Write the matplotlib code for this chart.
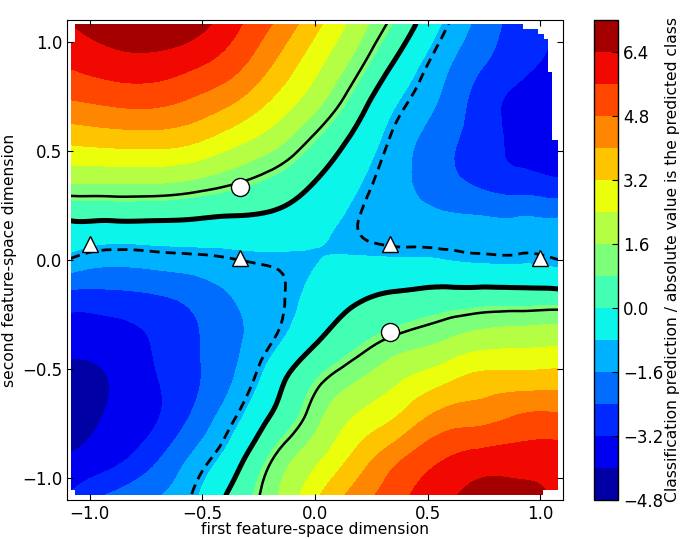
import numpy as np
import matplotlib
matplotlib.use("Agg")
import matplotlib.pyplot as plt
import matplotlib.tri as mtri
from matplotlib.patches import Polygon

grid_x = [-1.085, -0.9, -0.72, -0.54, -0.36, -0.18, 0.0, 0.18, 0.36, 0.54, 0.72, 0.9, 1.085]
grid_y = [1.085, 0.9, 0.72, 0.54, 0.36, 0.18, 0.0, -0.18, -0.36, -0.54, -0.72, -0.9, -1.085]

# one row per grid_y value (top to bottom), one column per grid_x value
pred_rows = [
    [6.4, 6.9, 7.1, 6.8, 5.83, 4.75, 3.46, 2.08, 0.69, -0.66, -1.76, -2.7, -3.0],
    [5.7, 6.04, 6.1, 5.76, 5.1, 3.95, 2.67, 1.31, -0.12, -1.22, -2.23, -2.93, -3.5],
    [4.7, 4.92, 4.97, 4.62, 4.0, 3.01, 1.85, 0.46, -0.77, -1.6, -2.68, -3.4, -3.6],
    [3.3, 3.44, 3.49, 3.26, 2.6, 1.84, 0.77, -0.23, -1.18, -2.02, -2.75, -3.35, -3.5],
    [1.68, 1.7, 1.7, 1.5, 1.1, 0.63, 0.0, -0.68, -1.37, -2.0, -2.55, -2.9, -3.1],
    [0.0, 0.0, 0.0, -0.05, -0.13, -0.21, -0.55, -0.97, -1.3, -1.42, -1.48, -1.5, -1.5],
    [-1.05, -1.36, -1.28, -1.17, -1.02, -0.92, -0.82, -0.74, -0.75, -0.77, -0.88, -0.9, -1.0],
    [-2.8, -2.73, -2.56, -2.2, -1.6, -1.13, -0.59, -0.09, 0.19, 0.375, 0.48, 0.5, 0.5],
    [-3.64, -3.6, -3.15, -2.53, -1.77, -1.0, -0.13, 0.59, 1.1, 1.45, 1.9, 2.04, 2.13],
    [-4.3, -3.95, -3.3, -2.56, -1.6, -0.37, 0.74, 1.48, 2.21, 2.83, 3.39, 3.48, 3.54],
    [-4.4, -3.9, -3.35, -2.27, -1.06, 0.15, 1.33, 2.45, 3.2, 4.19, 4.48, 4.87, 4.93],
    [-3.95, -3.5, -2.67, -1.5, -0.4, 1.0, 2.12, 3.39, 4.54, 5.4, 5.84, 5.93, 5.9],
    [-3.1, -2.23, -1.7, -0.94, 0.26, 1.47, 3.04, 4.34, 5.3, 6.14, 6.6, 6.7, 6.2],
]

# training samples
circle_x = [-0.333, 0.333]
circle_y = [0.335, -0.33]
triangle_x = [-1.0, -0.333, 0.333, 1.0]
triangle_y = [0.075, 0.01, 0.075, 0.01]

levels = [-4.8, -4.0, -3.2, -2.4, -1.6, -0.8, 0.0, 0.8, 1.6, 2.4, 3.2, 4.0, 4.8, 5.6, 6.4, 7.2]
cbar_ticks = [-4.8, -3.2, -1.6, 0.0, 1.6, 3.2, 4.8, 6.4]
line_levels = [-1.0, 0.0, 1.0]

plt.rcParams['font.size'] = 12

fig = plt.figure(figsize=(6.82, 5.39), dpi=100)
ax = fig.add_axes([0.0982, 0.0724, 0.7273, 0.8905])
cax = fig.add_axes([0.871, 0.0724, 0.0352, 0.8905])

X, Y = np.meshgrid(grid_x, grid_y)
Z = np.array(pred_rows)
tri = mtri.Triangulation(X.ravel(), Y.ravel())
interp = mtri.CubicTriInterpolator(tri, Z.ravel(), kind='min_E')
refiner = mtri.UniformTriRefiner(tri)
tri_f, z_f = refiner.refine_field(Z.ravel(), triinterpolator=interp, subdiv=3)
z_f = np.clip(z_f, -4.79, 7.19)

cs = ax.tricontourf(tri_f, z_f, levels=levels, cmap='jet')
cl = ax.tricontour(tri_f, z_f, levels=line_levels, colors='k',
                   linewidths=[2.0, 3.6, 1.8],
                   linestyles=[(0, (3.6, 2.2)), 'solid', 'solid'])

# ragged border of the evaluated area
edge = [(-1.064, -1.078), (1.013, -1.078), (1.013, -1.055), (1.078, -1.055),
        (1.078, 0.55), (1.053, 0.55), (1.053, 0.861), (1.034, 0.861),
        (1.034, 1.014), (1.015, 1.014), (1.015, 1.037), (0.99, 1.037),
        (0.99, 1.06), (0.923, 1.06), (0.923, 1.083), (-1.064, 1.083),
        (-1.064, 0.998), (-1.084, 0.998), (-1.084, -1.055), (-1.064, -1.055)]
clip = Polygon(edge, closed=True, transform=ax.transData, fc='none', ec='none')
ax.add_patch(clip)
cs.set_clip_path(clip)
cl.set_clip_path(clip)

ax.plot(circle_x, circle_y, 'o', ms=13, mfc='w', mec='k', mew=1, zorder=5)
ax.plot(triangle_x, triangle_y, '^', ms=12, mfc='w', mec='k', mew=1, zorder=5)

ax.set_xlim(-1.1, 1.1)
ax.set_ylim(-1.1, 1.1)
ax.set_xticks([-1.0, -0.5, 0.0, 0.5, 1.0])
ax.set_yticks([-1.0, -0.5, 0.0, 0.5, 1.0])
ax.tick_params(direction='in', top=True, right=True, length=4, width=0.8)
ax.set_xlabel('first feature-space dimension', fontsize=11.2)
ax.set_ylabel('second feature-space dimension', fontsize=11.2)
ax.xaxis.set_label_coords(0.5, -0.045)
ax.yaxis.set_label_coords(-0.1, 0.5)

cb = fig.colorbar(cs, cax=cax, ticks=cbar_ticks)
cb.ax.tick_params(direction='in', length=4, width=0.8)
cb.set_label('Classification prediction / absolute value is the predicted class',
             fontsize=11.2)
cb.ax.yaxis.set_label_coords(2.95, 0.5)
cb.outline.set_linewidth(1)

fig.savefig('out.png', dpi=100)
